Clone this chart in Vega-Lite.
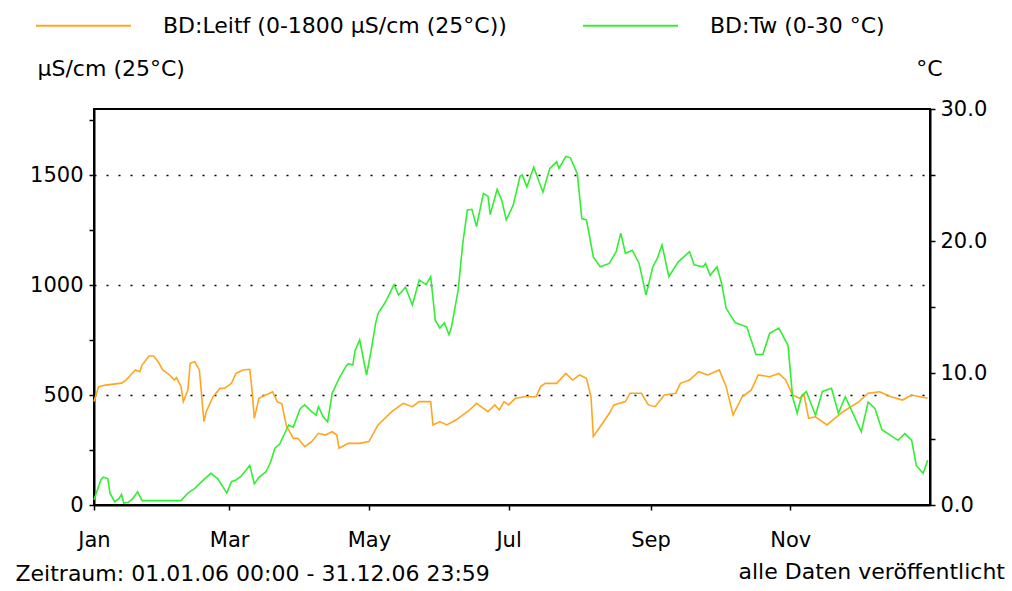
{
  "$schema": "https://vega.github.io/schema/vega-lite/v6.json",
  "width": 836,
  "height": 396,
  "autosize": {"type": "none"},
  "padding": {"left": 94, "top": 109, "right": 82, "bottom": 86},
  "background": "#ffffff",
  "title": {
    "text": "alle Daten veröffentlicht",
    "orient": "bottom",
    "anchor": "end",
    "frame": "group",
    "baseline": "alphabetic",
    "offset": 0,
    "dx": 75,
    "dy": -5,
    "font": "DejaVu Sans",
    "fontSize": 22,
    "fontWeight": "normal",
    "color": "#000000"
  },
  "datasets": {
    "leitf": [
      {"date": "2006-01-01", "value": 470},
      {"date": "2006-01-03", "value": 538},
      {"date": "2006-01-06", "value": 545},
      {"date": "2006-01-13", "value": 554},
      {"date": "2006-01-15", "value": 568},
      {"date": "2006-01-17", "value": 591},
      {"date": "2006-01-19", "value": 614},
      {"date": "2006-01-21", "value": 606},
      {"date": "2006-01-22", "value": 636},
      {"date": "2006-01-25", "value": 677},
      {"date": "2006-01-27", "value": 677},
      {"date": "2006-01-29", "value": 651},
      {"date": "2006-01-31", "value": 614},
      {"date": "2006-02-03", "value": 591},
      {"date": "2006-02-05", "value": 568},
      {"date": "2006-02-06", "value": 579},
      {"date": "2006-02-08", "value": 538},
      {"date": "2006-02-09", "value": 470},
      {"date": "2006-02-11", "value": 523},
      {"date": "2006-02-12", "value": 644},
      {"date": "2006-02-14", "value": 651},
      {"date": "2006-02-16", "value": 614},
      {"date": "2006-02-18", "value": 379},
      {"date": "2006-02-19", "value": 424},
      {"date": "2006-02-22", "value": 492},
      {"date": "2006-02-25", "value": 530},
      {"date": "2006-02-27", "value": 530},
      {"date": "2006-03-02", "value": 553},
      {"date": "2006-03-04", "value": 598},
      {"date": "2006-03-07", "value": 614},
      {"date": "2006-03-10", "value": 617},
      {"date": "2006-03-11", "value": 523},
      {"date": "2006-03-12", "value": 394},
      {"date": "2006-03-14", "value": 485},
      {"date": "2006-03-17", "value": 500},
      {"date": "2006-03-20", "value": 515},
      {"date": "2006-03-22", "value": 470},
      {"date": "2006-03-24", "value": 460},
      {"date": "2006-03-26", "value": 360},
      {"date": "2006-03-29", "value": 303},
      {"date": "2006-03-31", "value": 303},
      {"date": "2006-04-03", "value": 265},
      {"date": "2006-04-06", "value": 288},
      {"date": "2006-04-09", "value": 326},
      {"date": "2006-04-12", "value": 318},
      {"date": "2006-04-15", "value": 333},
      {"date": "2006-04-17", "value": 318},
      {"date": "2006-04-18", "value": 258},
      {"date": "2006-04-22", "value": 280},
      {"date": "2006-04-27", "value": 280},
      {"date": "2006-05-01", "value": 288},
      {"date": "2006-05-05", "value": 364},
      {"date": "2006-05-11", "value": 424},
      {"date": "2006-05-16", "value": 462},
      {"date": "2006-05-20", "value": 447},
      {"date": "2006-05-23", "value": 470},
      {"date": "2006-05-28", "value": 470},
      {"date": "2006-05-29", "value": 364},
      {"date": "2006-06-01", "value": 379},
      {"date": "2006-06-04", "value": 364},
      {"date": "2006-06-08", "value": 386},
      {"date": "2006-06-14", "value": 432},
      {"date": "2006-06-17", "value": 462},
      {"date": "2006-06-22", "value": 424},
      {"date": "2006-06-25", "value": 455},
      {"date": "2006-06-27", "value": 432},
      {"date": "2006-06-29", "value": 470},
      {"date": "2006-07-01", "value": 455},
      {"date": "2006-07-04", "value": 485},
      {"date": "2006-07-08", "value": 492},
      {"date": "2006-07-13", "value": 492},
      {"date": "2006-07-15", "value": 538},
      {"date": "2006-07-17", "value": 553},
      {"date": "2006-07-22", "value": 553},
      {"date": "2006-07-26", "value": 598},
      {"date": "2006-07-29", "value": 568},
      {"date": "2006-08-01", "value": 591},
      {"date": "2006-08-04", "value": 576},
      {"date": "2006-08-06", "value": 492},
      {"date": "2006-08-07", "value": 312},
      {"date": "2006-08-09", "value": 341},
      {"date": "2006-08-14", "value": 417},
      {"date": "2006-08-16", "value": 455},
      {"date": "2006-08-21", "value": 470},
      {"date": "2006-08-23", "value": 508},
      {"date": "2006-08-28", "value": 508},
      {"date": "2006-08-31", "value": 455},
      {"date": "2006-09-03", "value": 447},
      {"date": "2006-09-07", "value": 500},
      {"date": "2006-09-12", "value": 508},
      {"date": "2006-09-14", "value": 553},
      {"date": "2006-09-18", "value": 568},
      {"date": "2006-09-22", "value": 606},
      {"date": "2006-09-26", "value": 591},
      {"date": "2006-10-01", "value": 614},
      {"date": "2006-10-04", "value": 538},
      {"date": "2006-10-07", "value": 409},
      {"date": "2006-10-11", "value": 492},
      {"date": "2006-10-15", "value": 523},
      {"date": "2006-10-18", "value": 591},
      {"date": "2006-10-23", "value": 583},
      {"date": "2006-10-27", "value": 598},
      {"date": "2006-10-30", "value": 568},
      {"date": "2006-11-02", "value": 500},
      {"date": "2006-11-05", "value": 485},
      {"date": "2006-11-07", "value": 500},
      {"date": "2006-11-09", "value": 394},
      {"date": "2006-11-12", "value": 401},
      {"date": "2006-11-17", "value": 364},
      {"date": "2006-11-24", "value": 424},
      {"date": "2006-12-01", "value": 470},
      {"date": "2006-12-05", "value": 508},
      {"date": "2006-12-10", "value": 515},
      {"date": "2006-12-15", "value": 492},
      {"date": "2006-12-20", "value": 477},
      {"date": "2006-12-24", "value": 500},
      {"date": "2006-12-31", "value": 485}
    ],
    "tw": [
      {"date": "2006-01-01", "value": 0.4},
      {"date": "2006-01-02", "value": 0.9},
      {"date": "2006-01-04", "value": 1.9},
      {"date": "2006-01-05", "value": 2.1},
      {"date": "2006-01-07", "value": 2.0},
      {"date": "2006-01-08", "value": 0.9},
      {"date": "2006-01-10", "value": 0.25},
      {"date": "2006-01-12", "value": 0.5},
      {"date": "2006-01-13", "value": 0.8},
      {"date": "2006-01-14", "value": 0.15},
      {"date": "2006-01-16", "value": 0.2},
      {"date": "2006-01-18", "value": 0.5},
      {"date": "2006-01-20", "value": 1.0},
      {"date": "2006-01-22", "value": 0.33},
      {"date": "2006-02-08", "value": 0.33},
      {"date": "2006-02-11", "value": 0.9},
      {"date": "2006-02-14", "value": 1.26},
      {"date": "2006-02-17", "value": 1.77},
      {"date": "2006-02-21", "value": 2.4},
      {"date": "2006-02-24", "value": 2.0},
      {"date": "2006-02-28", "value": 0.9},
      {"date": "2006-03-02", "value": 1.77},
      {"date": "2006-03-04", "value": 1.9},
      {"date": "2006-03-06", "value": 2.14},
      {"date": "2006-03-10", "value": 3.0},
      {"date": "2006-03-12", "value": 1.6},
      {"date": "2006-03-14", "value": 2.1},
      {"date": "2006-03-17", "value": 2.5},
      {"date": "2006-03-19", "value": 3.2},
      {"date": "2006-03-21", "value": 4.3},
      {"date": "2006-03-23", "value": 4.6},
      {"date": "2006-03-26", "value": 5.7},
      {"date": "2006-03-27", "value": 6.06},
      {"date": "2006-03-29", "value": 5.9},
      {"date": "2006-04-01", "value": 7.3},
      {"date": "2006-04-03", "value": 7.58},
      {"date": "2006-04-06", "value": 7.07},
      {"date": "2006-04-08", "value": 6.8},
      {"date": "2006-04-09", "value": 7.45},
      {"date": "2006-04-11", "value": 6.7},
      {"date": "2006-04-13", "value": 6.3},
      {"date": "2006-04-15", "value": 8.46},
      {"date": "2006-04-18", "value": 9.6},
      {"date": "2006-04-21", "value": 10.5},
      {"date": "2006-04-22", "value": 10.7},
      {"date": "2006-04-24", "value": 10.6},
      {"date": "2006-04-25", "value": 11.7},
      {"date": "2006-04-27", "value": 12.5},
      {"date": "2006-04-30", "value": 9.85},
      {"date": "2006-05-02", "value": 11.7},
      {"date": "2006-05-04", "value": 13.8},
      {"date": "2006-05-05", "value": 14.5},
      {"date": "2006-05-08", "value": 15.3},
      {"date": "2006-05-12", "value": 16.7},
      {"date": "2006-05-14", "value": 15.9},
      {"date": "2006-05-17", "value": 16.5},
      {"date": "2006-05-20", "value": 15.15},
      {"date": "2006-05-23", "value": 17.05},
      {"date": "2006-05-26", "value": 16.7},
      {"date": "2006-05-28", "value": 17.3},
      {"date": "2006-05-30", "value": 14.0},
      {"date": "2006-06-01", "value": 13.4},
      {"date": "2006-06-03", "value": 13.8},
      {"date": "2006-06-05", "value": 12.9},
      {"date": "2006-06-06", "value": 13.4},
      {"date": "2006-06-09", "value": 16.3},
      {"date": "2006-06-11", "value": 19.8},
      {"date": "2006-06-13", "value": 22.35},
      {"date": "2006-06-15", "value": 22.4},
      {"date": "2006-06-17", "value": 21.1},
      {"date": "2006-06-20", "value": 23.6},
      {"date": "2006-06-22", "value": 23.4},
      {"date": "2006-06-23", "value": 22.0},
      {"date": "2006-06-26", "value": 23.9},
      {"date": "2006-06-28", "value": 23.1},
      {"date": "2006-06-30", "value": 21.6},
      {"date": "2006-07-03", "value": 22.7},
      {"date": "2006-07-06", "value": 24.9},
      {"date": "2006-07-07", "value": 25.0},
      {"date": "2006-07-09", "value": 24.1},
      {"date": "2006-07-12", "value": 25.6},
      {"date": "2006-07-16", "value": 23.7},
      {"date": "2006-07-19", "value": 25.5},
      {"date": "2006-07-22", "value": 26.0},
      {"date": "2006-07-23", "value": 25.5},
      {"date": "2006-07-26", "value": 26.4},
      {"date": "2006-07-28", "value": 26.3},
      {"date": "2006-07-31", "value": 25.1},
      {"date": "2006-08-02", "value": 21.7},
      {"date": "2006-08-04", "value": 21.6},
      {"date": "2006-08-07", "value": 18.8},
      {"date": "2006-08-10", "value": 18.05},
      {"date": "2006-08-14", "value": 18.3},
      {"date": "2006-08-17", "value": 19.2},
      {"date": "2006-08-19", "value": 20.6},
      {"date": "2006-08-21", "value": 19.07},
      {"date": "2006-08-24", "value": 19.3},
      {"date": "2006-08-27", "value": 18.3},
      {"date": "2006-08-30", "value": 15.9},
      {"date": "2006-09-02", "value": 18.05},
      {"date": "2006-09-04", "value": 18.7},
      {"date": "2006-09-06", "value": 19.7},
      {"date": "2006-09-09", "value": 17.3},
      {"date": "2006-09-13", "value": 18.4},
      {"date": "2006-09-18", "value": 19.2},
      {"date": "2006-09-20", "value": 18.2},
      {"date": "2006-09-24", "value": 18.05},
      {"date": "2006-09-25", "value": 18.3},
      {"date": "2006-09-27", "value": 17.4},
      {"date": "2006-09-30", "value": 18.05},
      {"date": "2006-10-02", "value": 16.8},
      {"date": "2006-10-04", "value": 14.9},
      {"date": "2006-10-08", "value": 13.8},
      {"date": "2006-10-13", "value": 13.5},
      {"date": "2006-10-17", "value": 11.4},
      {"date": "2006-10-20", "value": 11.4},
      {"date": "2006-10-23", "value": 13.0},
      {"date": "2006-10-27", "value": 13.4},
      {"date": "2006-10-31", "value": 12.1},
      {"date": "2006-11-02", "value": 8.2},
      {"date": "2006-11-04", "value": 6.95},
      {"date": "2006-11-06", "value": 8.3},
      {"date": "2006-11-08", "value": 8.6},
      {"date": "2006-11-12", "value": 6.8},
      {"date": "2006-11-15", "value": 8.6},
      {"date": "2006-11-19", "value": 8.84},
      {"date": "2006-11-22", "value": 6.95},
      {"date": "2006-11-25", "value": 8.2},
      {"date": "2006-11-28", "value": 7.07},
      {"date": "2006-12-02", "value": 5.55},
      {"date": "2006-12-05", "value": 7.8},
      {"date": "2006-12-08", "value": 7.3},
      {"date": "2006-12-11", "value": 5.7},
      {"date": "2006-12-18", "value": 4.9},
      {"date": "2006-12-21", "value": 5.4},
      {"date": "2006-12-24", "value": 4.9},
      {"date": "2006-12-26", "value": 3.0},
      {"date": "2006-12-29", "value": 2.4},
      {"date": "2006-12-31", "value": 3.4}
    ]
  },
  "encoding": {
    "x": {
      "field": "date",
      "type": "temporal",
      "scale": {
        "domain": [
          {"year": 2006, "month": 1, "date": 1},
          {"year": 2006, "month": 12, "date": 31, "hours": 23, "minutes": 59}
        ]
      },
      "axis": {
        "values": [
          {"year": 2006, "month": 1, "date": 1},
          {"year": 2006, "month": 3, "date": 1},
          {"year": 2006, "month": 5, "date": 1},
          {"year": 2006, "month": 7, "date": 1},
          {"year": 2006, "month": 9, "date": 1},
          {"year": 2006, "month": 11, "date": 1}
        ],
        "format": "%b",
        "labelBaseline": "alphabetic",
        "labelPadding": 36,
        "labelFlush": false,
        "labelFontSize": 21,
        "grid": false,
        "title": "Zeitraum: 01.01.06 00:00 - 31.12.06 23:59",
        "titleX": -79,
        "titleY": 75,
        "titleAlign": "left",
        "titleBaseline": "alphabetic",
        "titleFontSize": 22
      }
    }
  },
  "layer": [
    {
      "data": {"name": "leitf"},
      "mark": {"type": "line", "strokeWidth": 1.6},
      "encoding": {
        "y": {
          "field": "value",
          "type": "quantitative",
          "scale": {"domain": [0, 1800], "nice": false},
          "axis": {
            "orient": "left",
            "values": [0, 250, 500, 750, 1000, 1250, 1500, 1750],
            "labelExpr": "datum.value % 500 == 0 ? format(datum.value, 'd') : ''",
            "labelOverlap": false,
            "labelPadding": 6,
            "labelFontSize": 21,
            "grid": true,
            "gridColor": "#000000",
            "gridDash": [2, 10],
            "gridWidth": 1.6,
            "gridOpacity": {"condition": {"test": "datum.value % 500 != 0 || datum.value == 0", "value": 0}, "value": 1},
            "title": "μS/cm (25°C)",
            "titleAngle": 0,
            "titleX": -57,
            "titleY": -34,
            "titleAlign": "left",
            "titleBaseline": "alphabetic",
            "titleFontSize": 22
          }
        },
        "color": {
          "datum": "BD:Leitf (0-1800 μS/cm (25°C))",
          "type": "nominal",
          "scale": {
            "domain": ["BD:Leitf (0-1800 μS/cm (25°C))", "BD:Tw (0-30 °C)"],
            "range": ["#FFA620", "#33EE33"]
          },
          "legend": {
            "orient": "none",
            "legendX": -59,
            "legendY": -132,
            "direction": "horizontal",
            "title": null,
            "symbolType": "stroke",
            "symbolSize": 9025,
            "symbolStrokeWidth": 2,
            "labelFont": "DejaVu Sans",
            "labelFontSize": 22,
            "labelColor": "#000000",
            "labelLimit": 600,
            "labelOffset": 31,
            "columnPadding": 72
          }
        }
      }
    },
    {
      "data": {"name": "tw"},
      "mark": {"type": "line", "strokeWidth": 1.6},
      "encoding": {
        "y": {
          "field": "value",
          "type": "quantitative",
          "scale": {"domain": [0, 30], "nice": false},
          "axis": {
            "orient": "right",
            "values": [0, 5, 10, 15, 20, 25, 30],
            "labelExpr": "datum.value % 10 == 0 ? format(datum.value, '.1f') : ''",
            "labelOverlap": false,
            "labelPadding": 5,
            "labelFontSize": 21,
            "grid": false,
            "title": "°C",
            "titleAngle": 0,
            "titleX": -1,
            "titleY": -34,
            "titleAlign": "center",
            "titleBaseline": "alphabetic",
            "titleFontSize": 22
          }
        },
        "color": {
          "datum": "BD:Tw (0-30 °C)",
          "type": "nominal"
        }
      }
    }
  ],
  "resolve": {"scale": {"y": "independent"}},
  "config": {
    "font": "DejaVu Sans",
    "view": {"stroke": "#000000", "strokeWidth": 2},
    "axis": {
      "domainColor": "#000000",
      "domainWidth": 2,
      "tickColor": "#000000",
      "tickWidth": 1.5,
      "tickSize": 5,
      "labelColor": "#000000",
      "labelFont": "DejaVu Sans",
      "titleColor": "#000000",
      "titleFont": "DejaVu Sans",
      "titleFontWeight": "normal"
    }
  }
}
